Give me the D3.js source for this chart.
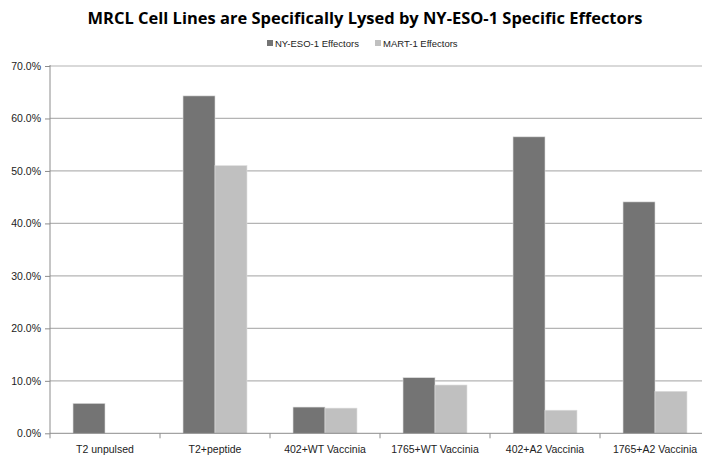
<!DOCTYPE html>
<html>
<head>
<meta charset="utf-8">
<script src="https://cdn.jsdelivr.net/npm/d3@7"></script>
<style>
  html, body { margin: 0; padding: 0; background: #fff; }
  svg { display: block; font-family: "Open Sans", "Liberation Sans", sans-serif; }
</style>
</head>
<body>
<svg id="chart" width="702" height="461"></svg>
<script>
// Percent specific lysis per target, for each effector population
const categories = ["T2 unpulsed", "T2+peptide", "402+WT Vaccinia", "1765+WT Vaccinia", "402+A2 Vaccinia", "1765+A2 Vaccinia"];
const seriesNames = ["NY-ESO-1 Effectors", "MART-1 Effectors"];
const nyEsoValues = [0.057, 0.643, 0.050, 0.106, 0.565, 0.441];
const martValues = [null, 0.510, 0.048, 0.092, 0.044, 0.080];
const yTicks = [0, 0.1, 0.2, 0.3, 0.4, 0.5, 0.6, 0.7];
const colors = ["#747474", "#c0c0c0"];

const svg = d3.select("#chart");
const margin = { left: 50, top: 66, bottom: 433.3 };
const bandStep = 110;
const plotRight = margin.left + bandStep * categories.length;

const x = d3.scaleBand().domain(categories).range([margin.left, plotRight]).paddingInner(0).paddingOuter(0);
const inner = d3.scaleBand().domain(seriesNames).range([0, x.bandwidth()]).paddingInner(0).paddingOuter(0.72);
const y = d3.scaleLinear().domain([0, 0.7]).range([margin.bottom, margin.top]);

// Title
const title = svg.append("text")
  .attr("x", 365).attr("y", 24)
  .attr("text-anchor", "middle")
  .attr("font-weight", "bold")
  .attr("font-size", 19)
  .attr("fill", "#000")
  .text("MRCL Cell Lines are Specifically Lysed by NY-ESO-1 Specific Effectors");
const tw = title.node().getComputedTextLength();
title.attr("font-size", 19 * 555 / tw);

// Horizontal gridlines
svg.append("g")
  .selectAll("line")
  .data(yTicks.filter(d => d > 0))
  .join("line")
  .attr("x1", margin.left).attr("x2", plotRight)
  .attr("y1", d => y(d)).attr("y2", d => y(d))
  .attr("stroke", "#b4b4b4").attr("stroke-width", 1.2);

// Bars
const rows = categories.map((c, i) => ({ c, vals: [nyEsoValues[i], martValues[i]] }));
svg.append("g")
  .selectAll("g")
  .data(rows)
  .join("g")
  .attr("transform", d => `translate(${x(d.c)},0)`)
  .selectAll("rect")
  .data(d => d.vals.map((v, k) => ({ v, k })).filter(e => e.v != null))
  .join("rect")
  .attr("x", e => inner(seriesNames[e.k]))
  .attr("width", inner.bandwidth())
  .attr("y", e => y(e.v))
  .attr("height", e => y(0) - y(e.v))
  .attr("fill", e => colors[e.k])
  .attr("stroke", "#dcdcdc").attr("stroke-width", 0.6);

// Y axis
const yAxis = d3.axisLeft(y).tickValues(yTicks).tickSize(5).tickPadding(4)
  .tickFormat(d3.format(".1%"));
const gy = svg.append("g").attr("transform", `translate(${margin.left},0)`).call(yAxis);
gy.select(".domain").attr("stroke", "#8c8c8c").attr("d", `M0,${margin.bottom}V${margin.top - 1}`);
gy.selectAll(".tick line").attr("stroke", "#8c8c8c");
gy.selectAll(".tick text").attr("font-size", 10.5).attr("fill", "#222")
  .attr("font-family", "'Liberation Sans', sans-serif");

// X axis: ticks sit on band boundaries, labels centred in bands
svg.append("line")
  .attr("x1", margin.left).attr("x2", plotRight)
  .attr("y1", y(0)).attr("y2", y(0))
  .attr("stroke", "#8c8c8c").attr("stroke-width", 1);
svg.append("g")
  .selectAll("line")
  .data(d3.range(categories.length + 1))
  .join("line")
  .attr("x1", i => margin.left + i * x.step()).attr("x2", i => margin.left + i * x.step())
  .attr("y1", y(0)).attr("y2", y(0) + 5)
  .attr("stroke", "#8c8c8c");
svg.append("g")
  .selectAll("text")
  .data(categories)
  .join("text")
  .attr("x", c => x(c) + x.bandwidth() / 2)
  .attr("y", 453)
  .attr("text-anchor", "middle")
  .attr("font-size", 10.5)
  .attr("font-family", "'Liberation Sans', sans-serif")
  .attr("fill", "#222")
  .text(c => c);

// Legend
const legendItems = [{ name: seriesNames[0], x: 267 }, { name: seriesNames[1], x: 375 }];
const lg = svg.append("g").selectAll("g").data(legendItems).join("g")
  .attr("transform", (d, i) => `translate(${d.x},40)`);
lg.append("rect").attr("width", 6).attr("height", 6).attr("fill", (d, i) => colors[i]);
lg.append("text").attr("x", 8).attr("y", 6.5)
  .attr("font-size", 9.5)
  .attr("font-family", "'Liberation Sans Narrow', 'Liberation Sans', sans-serif")
  .attr("fill", "#222")
  .text(d => d.name);
</script>
</body>
</html>
